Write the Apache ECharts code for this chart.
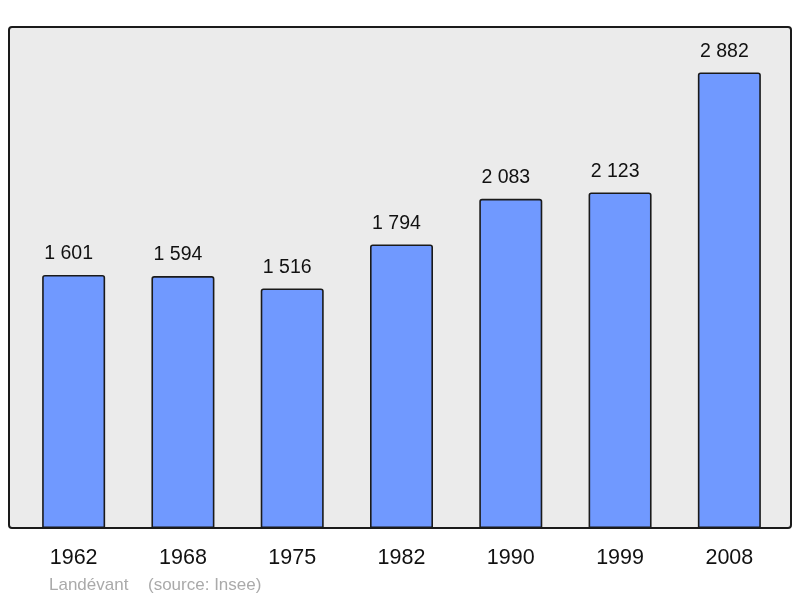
<!DOCTYPE html>
<html>
<head>
<meta charset="utf-8">
<script src="https://cdn.jsdelivr.net/npm/echarts@6/dist/echarts.min.js"></script>
<style>
html,body{margin:0;padding:0;background:#fff;}
#chart{width:800px;height:598px;}
</style>
</head>
<body>
<div id="chart"></div>
<script>
var years = ['1962', '1968', '1975', '1982', '1990', '1999', '2008'];
var population = [1601, 1594, 1516, 1794, 2083, 2123, 2882];
var townName = 'Landévant';
var sourceText = '(source: Insee)';

function fmt(v) {
  return String(v).replace(/\B(?=(\d{3})+(?!\d))/g, ' ');
}

var chart = echarts.init(document.getElementById('chart'), null, {renderer: 'canvas'});
chart.setOption({
  animation: false,
  backgroundColor: '#ffffff',
  textStyle: {fontFamily: 'Liberation Sans, Arial, sans-serif'},
  grid: {left: 19, right: 16, top: 27, bottom: 70},
  graphic: [
    {
      type: 'rect', z: 0,
      shape: {x: 9, y: 27, width: 782, height: 501, r: 3},
      style: {fill: '#ebebeb', stroke: '#1a1a1a', lineWidth: 2}
    },
    {
      type: 'text', left: 49, top: 577, z: 5,
      style: {text: townName, fill: '#aaaaaa', font: '17px Liberation Sans, Arial, sans-serif'}
    },
    {
      type: 'text', left: 148, top: 577, z: 5,
      style: {text: sourceText, fill: '#aaaaaa', font: '17px Liberation Sans, Arial, sans-serif'}
    }
  ],
  xAxis: {
    type: 'category',
    data: years,
    axisLine: {show: false},
    axisTick: {show: false},
    axisLabel: {color: '#111', fontSize: 21.5, margin: 19, fontFamily: 'Liberation Sans, Arial, sans-serif'}
  },
  yAxis: {
    type: 'value', min: 0, max: 3170,
    show: false,
    splitLine: {show: false}
  },
  series: [{
    type: 'bar',
    data: population,
    barWidth: 63,
    z: 3,
    itemStyle: {color: '#7099ff', borderColor: '#1a1a1a', borderWidth: 1.6, borderRadius: [2, 2, 0, 0]},
    label: {
      show: true, position: 'top', distance: 11, offset: [-5, 0],
      color: '#111', fontSize: 19.5,
      fontFamily: 'Liberation Sans, Arial, sans-serif',
      formatter: function (p) { return fmt(p.value); }
    }
  }]
});
</script>
</body>
</html>
